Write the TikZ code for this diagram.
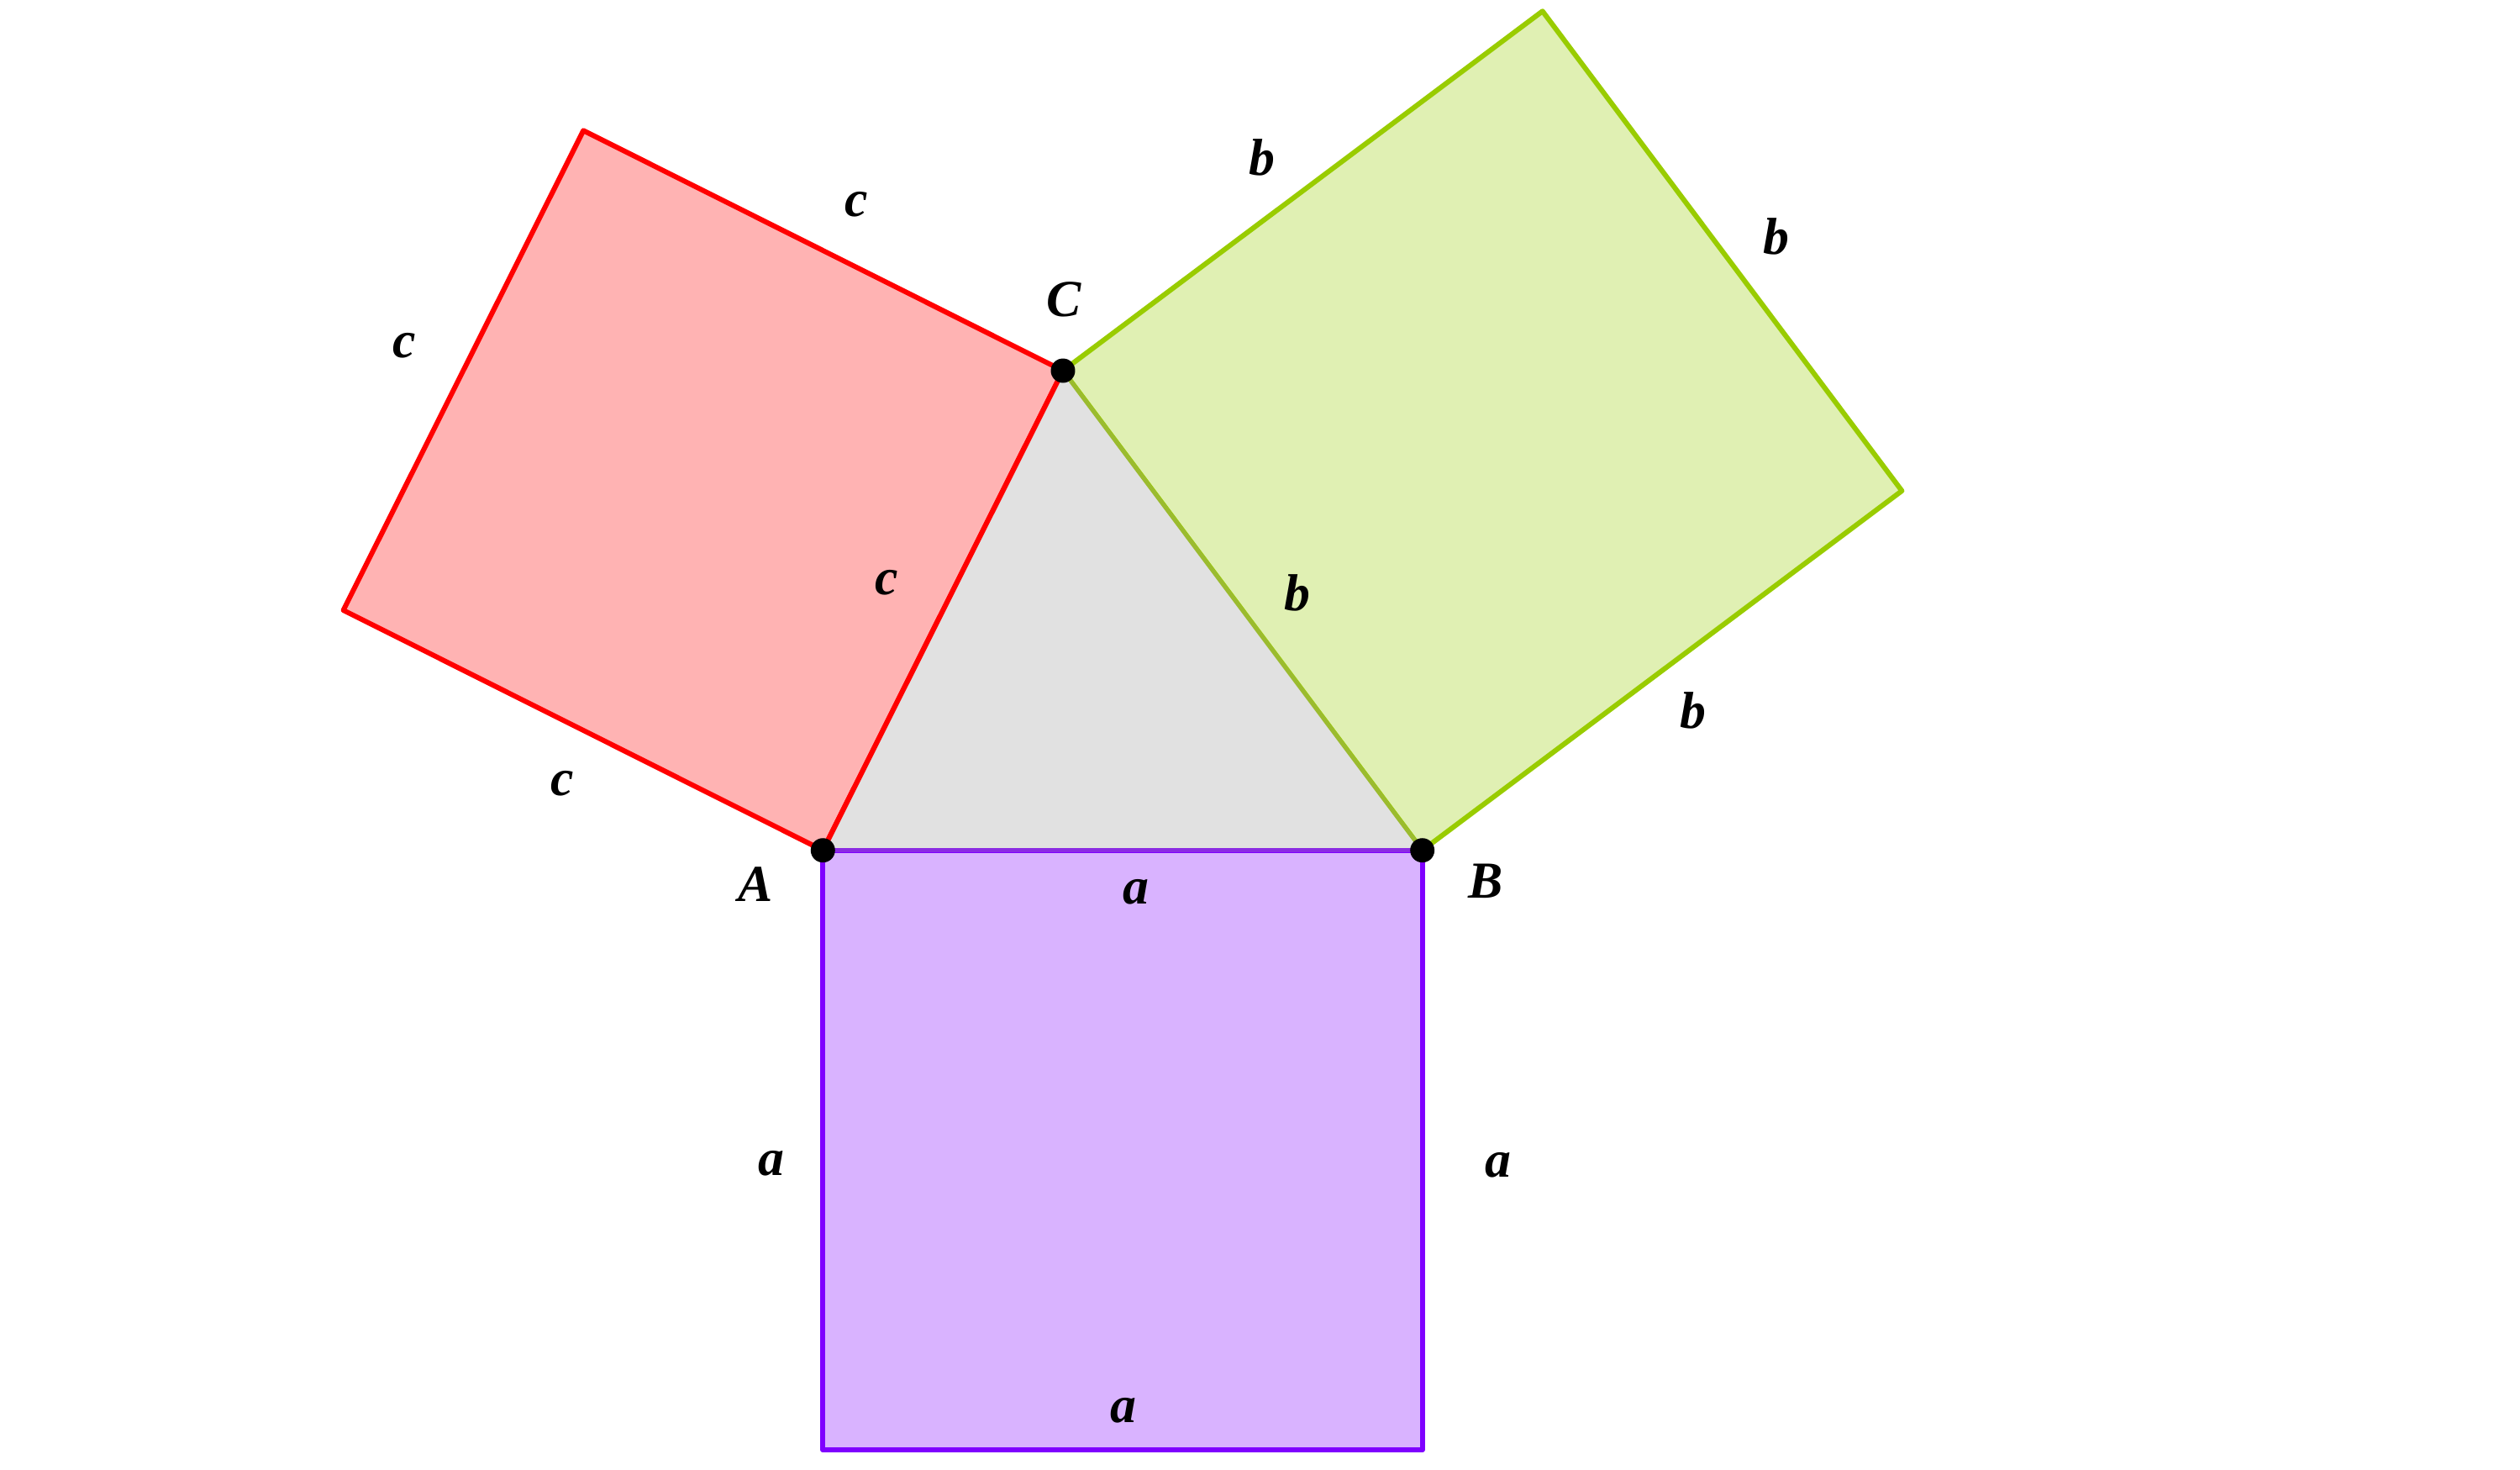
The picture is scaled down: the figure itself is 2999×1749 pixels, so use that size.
\documentclass[tikz,border=0pt]{standalone}
\usepackage{fontspec}
\setmainfont{Liberation Serif}
\definecolor{sqred}{HTML}{FF0000}
\definecolor{sqredfill}{HTML}{FFB3B3}
\definecolor{sqgreen}{HTML}{99CC00}
\definecolor{sqgreenfill}{HTML}{E0F0B3}
\definecolor{sqpurple}{HTML}{7F00FF}
\definecolor{sqpurplefill}{HTML}{D9B3FF}
\definecolor{trifill}{HTML}{E1E1E1}
\definecolor{edgebc}{HTML}{9BBB2F}
\definecolor{edgeab}{HTML}{8A2BE2}
\begin{document}
\begin{tikzpicture}[x=0.005cm,y=-0.005cm,line width=0.85pt,line join=round,
  pt node/.style={circle,fill=black,inner sep=0pt,minimum size=0.145cm},
  side label/.style={font=\fontsize{8.8}{10}\selectfont\bfseries\itshape,inner sep=0pt}]
  \useasboundingbox (0,0) rectangle (2999,1749);

  \coordinate (A) at (979.3,1011.7);
  \coordinate (B) at (1692.7,1011.7);
  \coordinate (C) at (1265,441);
  \coordinate (r3) at (694.3,155.3);
  \coordinate (r4) at (408.6,726.0);
  \coordinate (g3) at (2263.4,584.0);
  \coordinate (g4) at (1835.7,13.3);
  \coordinate (p3) at (1692.7,1725.1);
  \coordinate (p4) at (979.3,1725.1);

  % squares
  \draw[sqred,fill=sqredfill] (A) -- (C) -- (r3) -- (r4) -- cycle;
  \draw[sqgreen,fill=sqgreenfill] (C) -- (B) -- (g3) -- (g4) -- cycle;
  \draw[sqpurple,fill=sqpurplefill] (A) -- (B) -- (p3) -- (p4) -- cycle;

  % triangle
  \fill[trifill] (A) -- (B) -- (C) -- cycle;
  \draw[sqred] (A) -- (C);
  \draw[edgebc,line width=0.7pt] (C) -- (B);
  \draw[edgeab,line width=0.7pt] (A) -- (B);

  \node[pt node] (a) at (A) {};
  \node[pt node] (b) at (B) {};
  \node[pt node] (c) at (C) {};

  \node[side label] (lA) at (899,1052) {A};
  \node[side label] (lB) at (1768,1048) {B};
  \node[side label] (lC) at (1266,356) {C};

  \node[side label] (c1) at (1019,243) {c};
  \node[side label] (c2) at (481,411) {c};
  \node[side label] (c3) at (1055,693) {c};
  \node[side label] (c4) at (669,932) {c};

  \node[side label] (b1) at (1502,187) {b};
  \node[side label] (b2) at (2114,281) {b};
  \node[side label] (b3) at (1544,705) {b};
  \node[side label] (b4) at (2015,845) {b};

  \node[side label] (a1) at (1352,1061) {a};
  \node[side label] (a2) at (918,1384) {a};
  \node[side label] (a3) at (1783,1386) {a};
  \node[side label] (a4) at (1337,1678) {a};
\end{tikzpicture}
\end{document}
